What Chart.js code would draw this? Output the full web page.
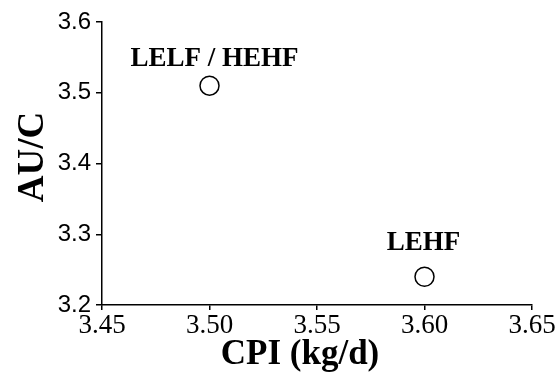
<!DOCTYPE html>
<html>
<head>
<meta charset="utf-8">
<script src="https://cdn.jsdelivr.net/npm/chart.js@4"></script>
<style>
  html, body { margin: 0; padding: 0; background: #fff; }
  .wrap { position: relative; width: 560px; height: 377px; }
</style>
</head>
<body>
<div class="wrap"><canvas id="chart"></canvas></div>
<script>
// ---- data ----
const xValues     = [3.50, 3.60];
const yValues     = [3.51, 3.24];
const pointLabels = ['LELF / HEHF', 'LEHF'];
const xTicks      = [3.45, 3.50, 3.55, 3.60, 3.65];
const yTicks      = [3.2, 3.3, 3.4, 3.5, 3.6];
const xTitle      = 'CPI (kg/d)';
const yTitle      = 'AU/C';

const serif = "'Liberation Serif', 'Times New Roman', serif";
const sans  = "'Liberation Sans', Arial, sans-serif";

// labels above each point + axis titles, drawn on the canvas
const annotate = {
    id: 'annotate',
    afterDraw(chart, args, opts) {
        const ctx = chart.ctx;
        const meta = chart.getDatasetMeta(0);
        ctx.save();
        ctx.fillStyle = '#000';
        ctx.font = 'bold 27px ' + serif;
        ctx.textAlign = 'center';
        ctx.textBaseline = 'alphabetic';
        meta.data.forEach((pt, i) => {
            const off = opts.offsets[i] || [0, -24];
            ctx.fillText(pointLabels[i], pt.x + off[0], pt.y + off[1]);
        });

        // x title
        ctx.font = 'bold 35px ' + serif;
        ctx.fillText(xTitle, opts.xTitleAt[0], opts.xTitleAt[1]);

        // y title (rotated)
        ctx.translate(opts.yTitleAt[0], opts.yTitleAt[1]);
        ctx.rotate(-Math.PI / 2);
        ctx.font = 'bold 37px ' + serif;
        ctx.fillText(yTitle, 0, 0);
        ctx.restore();
    }
};

new Chart(document.getElementById('chart'), {
    type: 'scatter',
    data: {
        datasets: [{
            data: xValues.map((x, i) => ({ x, y: yValues[i] })),
            pointStyle: 'circle',
            pointRadius: 9.5,
            pointHoverRadius: 9.5,
            borderWidth: 1.5,
            borderColor: '#000',
            backgroundColor: '#fff',
        }]
    },
    options: {
        responsive: true,
        maintainAspectRatio: false,
        animation: false,
        layout: { padding: { top: 22, right: 28, left: 0, bottom: 0 } },
        scales: {
            x: {
                type: 'linear',
                min: 3.45, max: 3.65,
                afterBuildTicks: s => { s.ticks = xTicks.map(v => ({ value: v })); },
                afterFit: s => { s.height = 72; },
                grid: { drawOnChartArea: false, drawTicks: true, tickLength: 5, color: '#000', lineWidth: 1.5 },
                border: { display: true, color: '#000', width: 1.5 },
                ticks: {
                    color: '#000',
                    padding: 0,
                    maxRotation: 0,
                    autoSkip: false,
                    font: { family: serif, size: 27 },
                    callback: v => Number(v).toFixed(2)
                }
            },
            y: {
                type: 'linear',
                min: 3.2, max: 3.6,
                afterBuildTicks: s => { s.ticks = yTicks.map(v => ({ value: v })); },
                afterFit: s => { s.width = 102; },
                grid: { drawOnChartArea: false, drawTicks: true, tickLength: 6, color: '#000', lineWidth: 1.5 },
                border: { display: true, color: '#000', width: 1.5 },
                ticks: {
                    color: '#000',
                    padding: 5,
                    autoSkip: false,
                    font: { family: sans, size: 24 },
                    callback: v => Number(v).toFixed(1)
                }
            }
        },
        plugins: {
            legend: { display: false },
            tooltip: { enabled: false },
            annotate: {
                offsets: [[5, -20], [-1, -27]],
                xTitleAt: [300, 364],
                yTitleAt: [43, 157]
            }
        }
    },
    plugins: [annotate]
});
</script>
</body>
</html>
